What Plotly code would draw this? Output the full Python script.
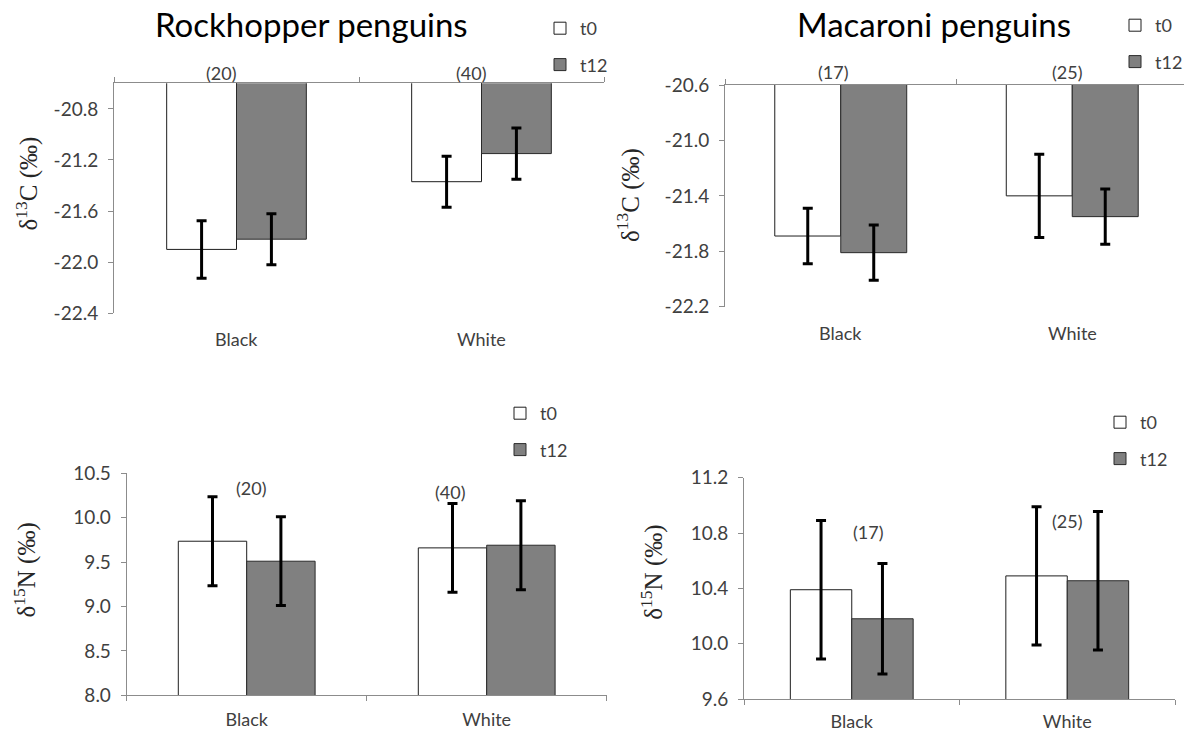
import plotly.graph_objects as go

# ---------------- data ----------------
categories = ["Black", "White"]
series_names = ["t0", "t12"]

rock_c_t0 = [-21.90, -21.37]
rock_c_t0_err = [0.225, 0.20]
rock_c_t12 = [-21.82, -21.15]
rock_c_t12_err = [0.20, 0.20]

mac_c_t0 = [-21.69, -21.40]
mac_c_t0_err = [0.20, 0.30]
mac_c_t12 = [-21.81, -21.55]
mac_c_t12_err = [0.20, 0.20]

rock_n_t0 = [9.735, 9.66]
rock_n_t0_err = [0.50, 0.50]
rock_n_t12 = [9.51, 9.69]
rock_n_t12_err = [0.50, 0.50]

mac_n_t0 = [10.39, 10.49]
mac_n_t0_err = [0.50, 0.50]
mac_n_t12 = [10.18, 10.455]
mac_n_t12_err = [0.40, 0.50]

rock_n_labels = ["(20)", "(40)"]
mac_n_labels = ["(17)", "(25)"]

rock_c_ticks = ["-22.4", "-22.0", "-21.6", "-21.2", "-20.8"]
mac_c_ticks = ["-22.2", "-21.8", "-21.4", "-21.0", "-20.6"]
rock_n_ticks = ["8.0", "8.5", "9.0", "9.5", "10.0", "10.5"]
mac_n_ticks = ["9.6", "10.0", "10.4", "10.8", "11.2"]

titles = ["Rockhopper penguins", "Macaroni penguins"]
ytitles = ["δ<sup>13</sup>C (‰)", "δ<sup>13</sup>C (‰)",
           "δ<sup>15</sup>N (‰)", "δ<sup>15</sup>N (‰)"]

# page offset of the plot div (default body margin) and figure size
OFF = 8
W, H = 1192 - OFF, 734 - OFF
SANS = "Lato, 'Open Sans', sans-serif"
SERIF = "'Liberation Serif', 'Times New Roman', serif"
AXIS_GRAY = "#8c8c8c"
TEXT_GRAY = "#404040"
FILL = ["#ffffff", "#808080"]
EDGE = ["#1e1e1e", "#2a2a2a"]


def px_x(p):
    return (p - OFF) / W


def px_y(p):
    return 1 - (p - OFF) / H


fig = go.Figure()

panels = [
    ("x", "y", "legend", rock_c_t0, rock_c_t0_err, rock_c_t12, rock_c_t12_err),
    ("x2", "y2", "legend2", mac_c_t0, mac_c_t0_err, mac_c_t12, mac_c_t12_err),
    ("x3", "y3", "legend3", rock_n_t0, rock_n_t0_err, rock_n_t12, rock_n_t12_err),
    ("x4", "y4", "legend4", mac_n_t0, mac_n_t0_err, mac_n_t12, mac_n_t12_err),
]

for i, (xa, ya, lg, v0, e0, v1, e1) in enumerate(panels):
    for j, (vals, errs) in enumerate([(v0, e0), (v1, e1)]):
        fig.add_trace(go.Bar(
            x=categories, y=vals, name=series_names[j],
            xaxis=xa, yaxis=ya, legend=lg,
            legendgroup=f"p{i}_{series_names[j]}",
            marker=dict(color=FILL[j], line=dict(color=EDGE[j], width=1)),
            error_y=dict(type="data", array=errs, visible=True,
                         color="black", thickness=3, width=5),
        ))

# ---------------- axes ----------------
dom = {
    1: dict(x=[px_x(114), px_x(604)], y=[px_y(313.3), px_y(83.3)]),
    2: dict(x=[px_x(725), px_x(1188)], y=[px_y(306.7), px_y(85)]),
    3: dict(x=[px_x(126.7), px_x(606.7)], y=[px_y(695.3), px_y(473.3)]),
    4: dict(x=[px_x(744), px_x(1175)], y=[px_y(699), px_y(477.7)]),
}
yr = {1: [-22.4, -20.6], 2: [-22.2, -20.6], 3: [8.0, 10.5], 4: [9.6, 11.2]}
yticks = {1: rock_c_ticks, 2: mac_c_ticks, 3: rock_n_ticks, 4: mac_n_ticks}

layout = {}
for k in range(1, 5):
    sx = "" if k == 1 else str(k)
    top = k in (1, 2)
    layout[f"xaxis{sx}"] = dict(
        domain=dom[k]["x"], anchor=f"y{sx}", type="category",
        categoryorder="array", categoryarray=categories,
        range=[-0.5, 1.5], side="top" if top else "bottom",
        showline=True, linecolor=AXIS_GRAY, linewidth=1,
        ticks="outside", tickson="boundaries", ticklen=5, tickcolor=AXIS_GRAY,
        showticklabels=not top, showgrid=False, zeroline=False,
        tickfont=dict(family=SANS, size=18, color=TEXT_GRAY),
        ticklabelstandoff=8 if k == 3 else 6, fixedrange=True, automargin=False,
    )
    layout[f"yaxis{sx}"] = dict(
        domain=dom[k]["y"], anchor=f"x{sx}", range=yr[k],
        tickmode="array", tickvals=[float(t) for t in yticks[k]], ticktext=yticks[k],
        showline=True, linecolor=AXIS_GRAY, linewidth=1,
        ticks="outside", ticklen=5, tickcolor=AXIS_GRAY,
        showgrid=False, zeroline=False, automargin=False,
        tickfont=dict(family=SANS, size=19, color=TEXT_GRAY),
        ticklabelstandoff=6,
    )

fig.update_layout(**layout)

# ---------------- legends ----------------
leg_pos = {"legend": (540, 10), "legend2": (1115, 7),
           "legend3": (500, 395), "legend4": (1100, 404)}
for name, (lx, ly) in leg_pos.items():
    fig.update_layout({name: dict(
        x=px_x(lx), y=px_y(ly), xanchor="left", yanchor="top",
        bgcolor="rgba(0,0,0,0)", borderwidth=0,
        font=dict(family=SANS, size=18, color=TEXT_GRAY),
        traceorder="grouped", tracegroupgap=10, itemwidth=30,
    )})

# ---------------- annotations ----------------
ann = []
for t, cx in zip(titles, [311, 934]):
    ann.append(dict(text=t, x=px_x(cx), y=px_y(24), xref="paper", yref="paper",
                    xanchor="center", yanchor="middle",
                    showarrow=False, font=dict(family=SANS, size=33, color="black")))

# y-axis titles (placed like the original, slightly above axis centre)
for t, (cx, cy) in zip(ytitles, [(27, 183.5), (628, 195), (25, 570.5), (651.7, 572)]):
    ann.append(dict(text=t, x=px_x(cx), y=px_y(cy), xref="paper", yref="paper",
                    xanchor="center", yanchor="middle", textangle=-90,
                    showarrow=False, font=dict(family=SERIF, size=25, color="#262626")))

# category labels below the top-row panels (their axis line sits at the top)
for xa, ya in (("x", "y domain"), ("x2", "y2 domain")):
    for c in categories:
        ann.append(dict(text=c, x=c, y=0, xref=xa, yref=ya, xanchor="center",
                        yanchor="top", yshift=-13, showarrow=False,
                        font=dict(family=SANS, size=18, color=TEXT_GRAY)))

for xi, lab in zip([-0.06, 0.96], rock_n_labels):
    ann.append(dict(text=lab, x=xi, y=1, xref="x", yref="y domain", xanchor="center",
                    yanchor="bottom", yshift=-3,
                    showarrow=False, font=dict(family=SANS, size=18, color=TEXT_GRAY)))
for xi, lab in zip([-0.03, 0.98], mac_n_labels):
    ann.append(dict(text=lab, x=xi, y=1, xref="x2", yref="y2 domain", xanchor="center",
                    yanchor="bottom", yshift=0,
                    showarrow=False, font=dict(family=SANS, size=18, color=TEXT_GRAY)))
for xi, yi, lab in zip([0.02, 0.85], [10.34, 10.29], rock_n_labels):
    ann.append(dict(text=lab, x=xi, y=yi, xref="x3", yref="y3", xanchor="center",
                    showarrow=False, font=dict(family=SANS, size=18, color=TEXT_GRAY)))
for xi, yi, lab in zip([0.08, 1.0], [10.81, 10.89], mac_n_labels):
    ann.append(dict(text=lab, x=xi, y=yi, xref="x4", yref="y4", xanchor="center",
                    showarrow=False, font=dict(family=SANS, size=18, color=TEXT_GRAY)))

fig.update_layout(
    width=W, height=H, margin=dict(l=0, r=0, t=0, b=0, autoexpand=False),
    paper_bgcolor="white", plot_bgcolor="white",
    barmode="group", bargap=0.43, bargroupgap=0,
    annotations=ann, showlegend=True,
)

fig.write_html("out.html")
